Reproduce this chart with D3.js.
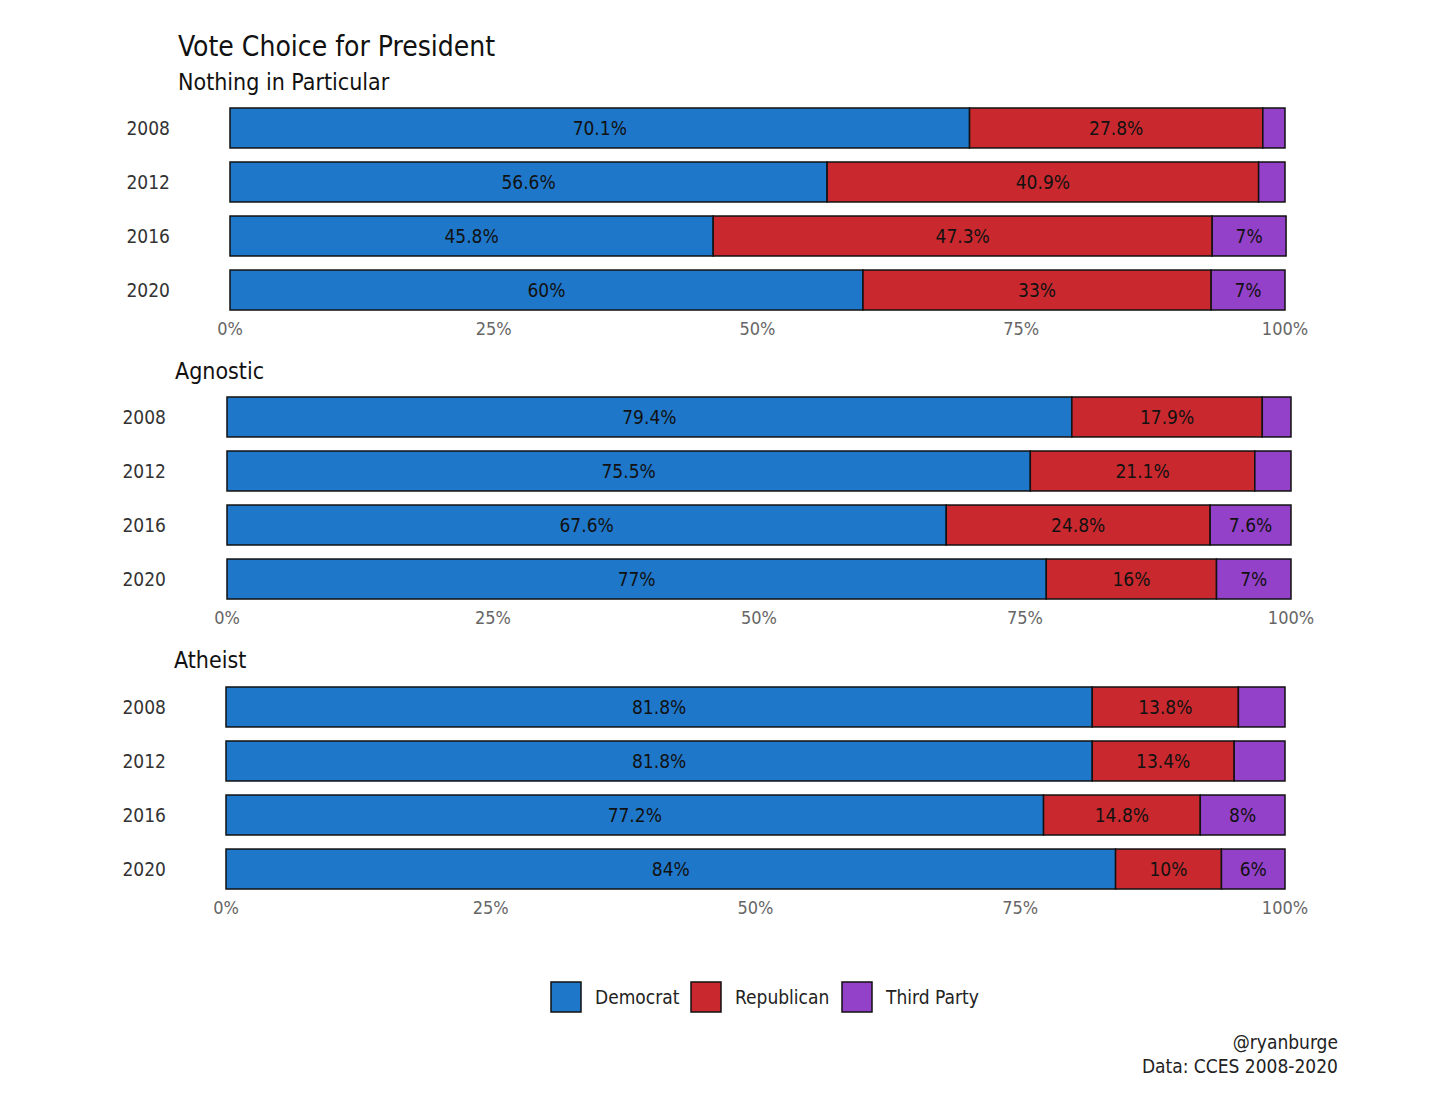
<!DOCTYPE html>
<html><head><meta charset="utf-8">
<script src="https://cdn.jsdelivr.net/npm/d3@7"></script>
<style>body{margin:0;background:#fff}text{font-family:"DejaVu Sans Condensed","DejaVu Sans",sans-serif;font-stretch:condensed;font-weight:300;}</style>
</head><body>
<script>
const years = ["2008","2012","2016","2020"];
const panels = ["Nothing in Particular","Agnostic","Atheist"];
const parties = ["Democrat","Republican","Third Party"];
const colors = ["#1f77c9","#c9292e","#9441c9"];
const dem = [[70.1,56.6,45.8,60],[79.4,75.5,67.6,77],[81.8,81.8,77.2,84]];
const rep = [[27.8,40.9,47.3,33],[17.9,21.1,24.8,16],[13.8,13.4,14.8,10]];
const third = [[2.1,2.5,7,7],[2.7,3.4,7.6,7],[4.4,4.8,8,6]];
const thirdLabel = [[null,null,"7%","7%"],[null,null,"7.6%","7%"],[null,null,"8%","6%"]];
const ticks = [0,25,50,75,100];

const W=1442,H=1118;
const svg=d3.select("body").append("svg").attr("width",W).attr("height",H);
svg.append("text").attr("x",178).attr("y",56).attr("font-size",28).attr("fill","#111").text("Vote Choice for President");

const geo=[{x0:230,x1:1285,sub:90,top:108,lab:170},{x0:227,x1:1291,sub:379,top:397,lab:166},{x0:226,x1:1285,sub:668,top:687,lab:166}];
const fmt=v=>v+"%";
geo.forEach((g,p)=>{
  const x=d3.scaleLinear().domain([0,100]).range([g.x0,g.x1]);
  const y=d3.scaleBand().domain(years).range([g.top,g.top+202]).paddingInner(0.26).paddingOuter(0);
  const grp=svg.append("g");
  grp.append("text").attr("x",g.x0-52).attr("y",g.sub).attr("font-size",23).attr("fill","#111").text(panels[p]);
  years.forEach((yr,i)=>{
    const vals=[dem[p][i],rep[p][i],third[p][i]];
    const labs=[fmt(dem[p][i]),fmt(rep[p][i]),thirdLabel[p][i]];
    let c=0;
    vals.forEach((v,k)=>{
      grp.append("rect").attr("x",x(c)).attr("y",y(yr)).attr("width",x(c+v)-x(c)).attr("height",y.bandwidth())
        .attr("fill",colors[k]).attr("stroke","#111").attr("stroke-width",1.5);
      if(labs[k]) grp.append("text").attr("x",(x(c)+x(c+v))/2).attr("y",y(yr)+y.bandwidth()/2+7)
        .attr("text-anchor","middle").attr("font-size",19).attr("fill","#111").text(labs[k]);
      c+=v;
    });
    grp.append("text").attr("x",g.lab).attr("y",y(yr)+y.bandwidth()/2+7).attr("text-anchor","end")
      .attr("font-size",19).attr("fill","#333").text(yr);
  });
  grp.selectAll(".tk").data(ticks).join("text").attr("x",d=>x(d)).attr("y",g.top+227).attr("text-anchor","middle")
    .attr("font-size",18).attr("fill","#666").text(d=>d+"%");
});

const lx=[551,691,842];
parties.forEach((n,k)=>{
  svg.append("rect").attr("x",lx[k]).attr("y",982).attr("width",30).attr("height",30).attr("fill",colors[k]).attr("stroke","#111").attr("stroke-width",1.5);
  svg.append("text").attr("x",lx[k]+44).attr("y",1004).attr("font-size",19).attr("fill","#222").text(n);
});
svg.append("text").attr("x",1338).attr("y",1049).attr("text-anchor","end").attr("font-size",19).attr("fill","#222").text("@ryanburge");
svg.append("text").attr("x",1338).attr("y",1073).attr("text-anchor","end").attr("font-size",19).attr("fill","#222").text("Data: CCES 2008-2020");
</script>
</body></html>
